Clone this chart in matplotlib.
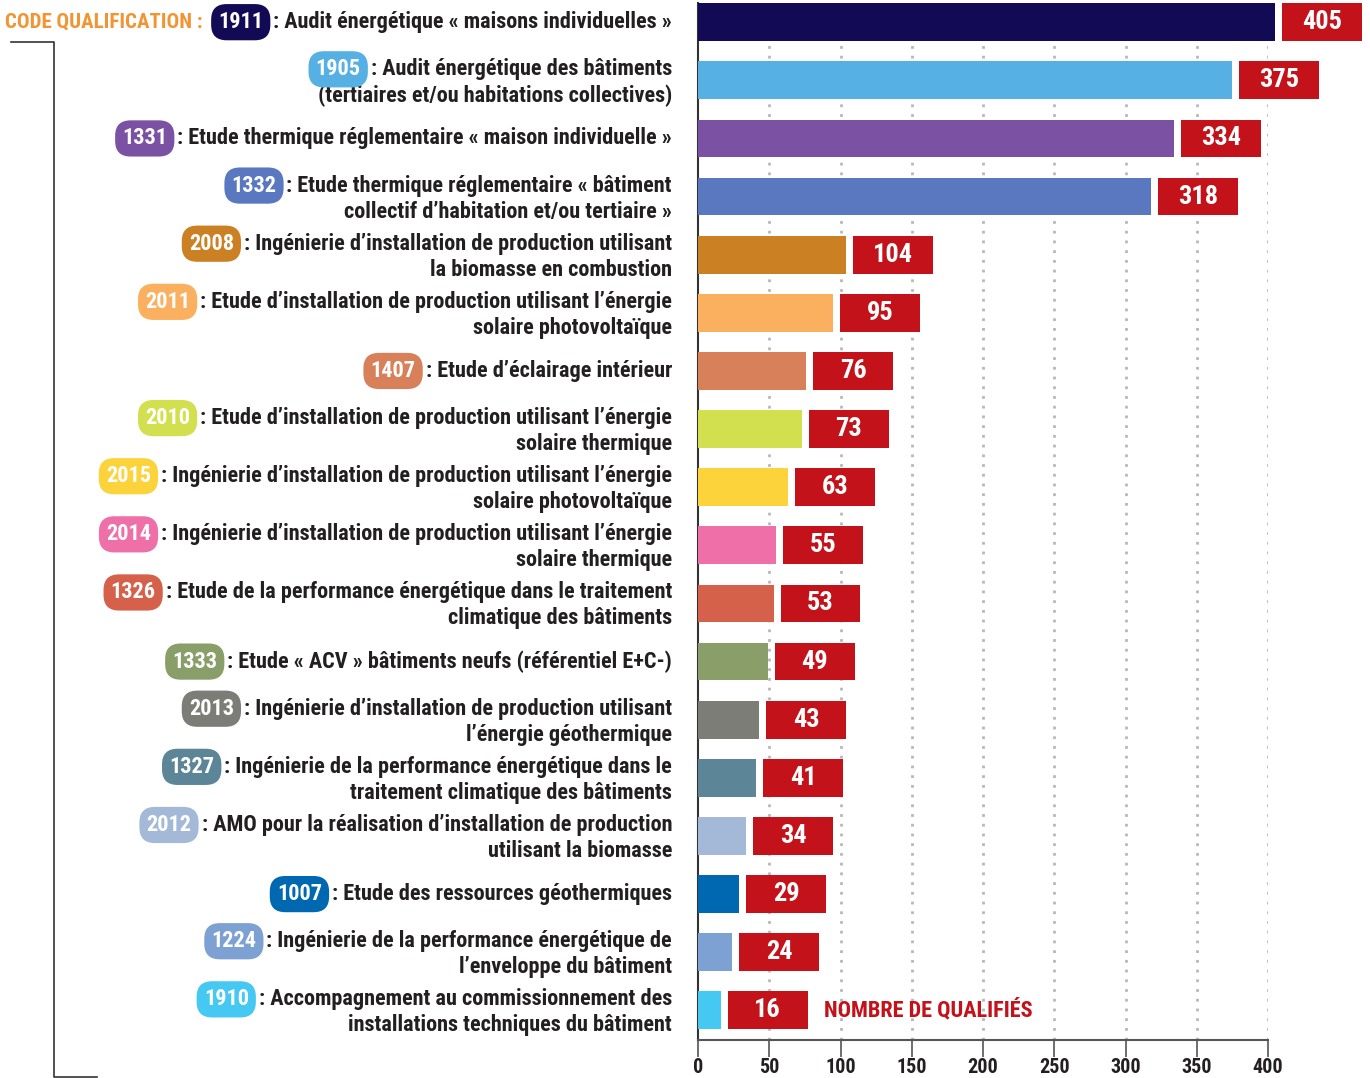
import matplotlib
matplotlib.use("Agg")
import matplotlib.pyplot as plt
from matplotlib import font_manager
from matplotlib.transforms import offset_copy
from matplotlib.lines import Line2D

# ── data ──────────────────────────────────────────────────────────────────────
codes = ["1911", "1905", "1331", "1332", "2008", "2011", "1407", "2010", "2015",
         "2014", "1326", "1333", "2013", "1327", "2012", "1007", "1224", "1910"]

labels = [
    ["Audit énergétique « maisons individuelles »"],
    ["Audit énergétique des bâtiments", "(tertiaires et/ou habitations collectives)"],
    ["Etude thermique réglementaire « maison individuelle »"],
    ["Etude thermique réglementaire « bâtiment", "collectif d’habitation et/ou tertiaire »"],
    ["Ingénierie d’installation de production utilisant", "la biomasse en combustion"],
    ["Etude d’installation de production utilisant l’énergie", "solaire photovoltaïque"],
    ["Etude d’éclairage intérieur"],
    ["Etude d’installation de production utilisant l’énergie", "solaire thermique"],
    ["Ingénierie d’installation de production utilisant l’énergie", "solaire photovoltaïque"],
    ["Ingénierie d’installation de production utilisant l’énergie", "solaire thermique"],
    ["Etude de la performance énergétique dans le traitement", "climatique des bâtiments"],
    ["Etude « ACV » bâtiments neufs (référentiel E+C-)"],
    ["Ingénierie d’installation de production utilisant", "l’énergie géothermique"],
    ["Ingénierie de la performance énergétique dans le", "traitement climatique des bâtiments"],
    ["AMO pour la réalisation d’installation de production", "utilisant la biomasse"],
    ["Etude des ressources géothermiques"],
    ["Ingénierie de la performance énergétique de", "l’enveloppe du bâtiment"],
    ["Accompagnement au commissionnement des", "installations techniques du bâtiment"],
]

values = [405, 375, 334, 318, 104, 95, 76, 73, 63, 55, 53, 49, 43, 41, 34, 29, 24, 16]

colors = ["#130a56", "#56b0e3", "#7b52a3", "#5a78bf", "#cc8024", "#fbb05f",
          "#d8805a", "#d2df4e", "#fdd33c", "#ef70a9", "#d5614a", "#899e69",
          "#7d7d78", "#5c8597", "#a4b9d8", "#0067b1", "#7ea1d3", "#45c8f2"]

xticks = [0, 50, 100, 150, 200, 250, 300, 350, 400]

RED = "#c4121a"
ORANGE = "#f39432"
DARK = "#231f20"

# ── font: a narrow bold family if there is one ───────────────────────────────
installed = {f.name for f in font_manager.fontManager.ttflist}
FONT = next((f for f in ["Roboto Condensed", "Liberation Sans Narrow", "DejaVu Sans"]
             if f in installed), "DejaVu Sans")
plt.rcParams["font.family"] = [FONT, "DejaVu Sans"]
plt.rcParams["font.weight"] = "bold"

W, H = 1370, 1078
fig = plt.figure(figsize=(W / 100, H / 100), dpi=100)

# main bar axes: 0 at x=698, 400 at x=1268, bottom axis at y=1040
ax = fig.add_axes([698 / W, (H - 1040) / H, 570 / W, 1037 / H])
idx = list(range(len(values)))

ax.barh(idx, values, height=0.65, color=colors, zorder=3, clip_on=False)

# red value boxes right of each bar
box_gap, box_w = 4.9, 56.1
lefts = [v + box_gap for v in values]
ax.barh(idx, [box_w] * len(values), left=lefts, height=0.65, color=RED,
        zorder=3, clip_on=False)
for i, v in enumerate(values):
    ax.text(v + box_gap + box_w / 2, i, str(v), ha="center", va="center",
            color="white", fontsize=19, fontweight="bold", zorder=4, clip_on=False)

ax.text(88.5, idx[-1], "NOMBRE DE QUALIFIÉS", ha="left", va="center",
        color=RED, fontsize=16, fontweight="bold")

ax.set_xlim(0, 400)
ax.set_ylim(17.51, -0.33)
ax.set_yticks([])
ax.set_xticks(xticks)
ax.set_xticklabels([str(t) for t in xticks], fontsize=14.5, fontweight="bold", color=DARK)
ax.tick_params(axis="x", length=12, width=1.2, color="#555555", pad=1)
for x in xticks[1:]:
    ax.axvline(x, color="#b8b8b8", linestyle=(0, (1, 2.5)), linewidth=2, zorder=1)

for s in ["top", "right"]:
    ax.spines[s].set_visible(False)
ax.spines["left"].set_color("#333333")
ax.spines["left"].set_linewidth(1.5)
ax.spines["bottom"].set_color("#555555")
ax.spines["bottom"].set_linewidth(1.5)

# ── left labels with coloured code badges ────────────────────────────────────
text_x = (672 - 698) / 570          # axes fraction, right edge of label text
ytrans = ax.get_yaxis_transform()
fig.canvas.draw()
renderer = fig.canvas.get_renderer()

for i, (code, lines, c) in enumerate(zip(codes, labels, colors)):
    if len(lines) == 1:
        offs = [0]
    else:
        offs = [11, -15]
    first = None
    for line, off in zip([": " + lines[0]] + lines[1:], offs):
        t = ax.text(text_x, i, line, ha="right", va="center", fontsize=16,
                    color=DARK, fontweight="bold",
                    transform=offset_copy(ytrans, fig=fig, y=off, units="dots"))
        if first is None:
            first = t
    bb = first.get_window_extent(renderer)
    badge = fig.text(bb.x0 - 10, (bb.y0 + bb.y1) / 2, code, ha="right", va="center",
                     fontsize=16, color="white", fontweight="bold",
                     transform=None,
                     bbox=dict(boxstyle="round,pad=0.32,rounding_size=0.7", fc=c, ec="none"))
    if i == 0:
        bbb = badge.get_window_extent(renderer)
        fig.text(bbb.x0 - 16, (bb.y0 + bb.y1) / 2, "CODE QUALIFICATION :", ha="right",
                 va="center", fontsize=15, color=ORANGE, fontweight="bold",
                 transform=None)

# bracket on the far left
fig.add_artist(Line2D([11, 54, 54, 97], [H - 42, H - 42, H - 1077, H - 1077],
                      transform=None, color="#333333", linewidth=1.2))

fig.savefig("out.png", dpi=100)
